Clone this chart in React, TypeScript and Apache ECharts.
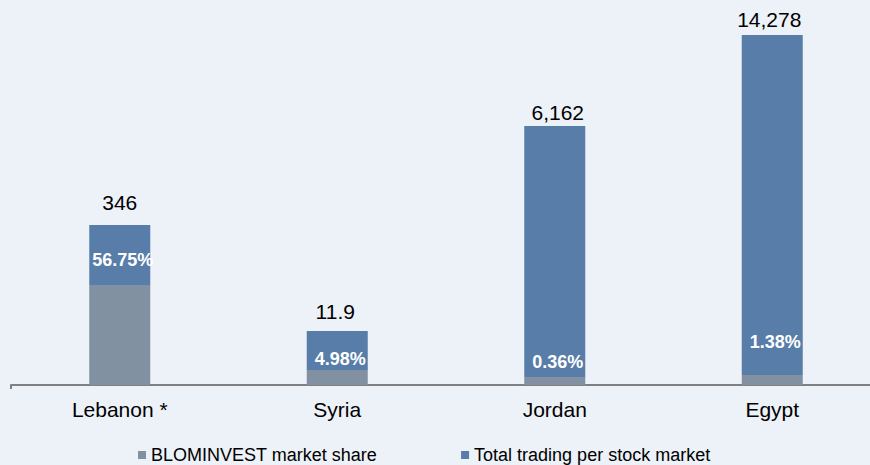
import React, { useEffect, useRef } from "react";
import * as echarts from "echarts";

// Categories and series (bar heights as drawn in the picture, the original is not to scale)
const categories = ["Lebanon *", "Syria", "Jordan", "Egypt"];
const shareHeights = [100, 15, 8, 10];
const restHeights = [60, 39, 251, 340];
// Values printed on the chart
const totals = [346, 11.9, 6162, 14278];
const shares = ["56.75%", "4.98%", "0.36%", "1.38%"];
const seriesNames = ["BLOMINVEST market share", "Total trading per stock market"];

// label layout tweaks
const shareLabelDist = [16, 2, 6, 24];
const totalLabelDist = [12, 9, 3, 5];
const totalLabelShift = [0, -2, 3, -3];

const FONT = "'Liberation Sans', Arial, Helvetica, sans-serif";

export default function App() {
  const ref = useRef<HTMLDivElement>(null);
  useEffect(() => {
    if (!ref.current) return;
    const chart = echarts.init(ref.current, null, { renderer: "svg" });
    chart.setOption({
      animation: false,
      backgroundColor: "#EDF1F8",
      textStyle: { fontFamily: FONT },
      grid: {
        left: 11,
        width: 870,
        top: 35,
        bottom: 80,
        containLabel: false,
        outerBoundsMode: "none",
      },
      legend: {
        data: seriesNames,
        top: 441,
        left: 133,
        itemGap: 84,
        itemWidth: 8,
        itemHeight: 8,
        icon: "rect",
        textStyle: { fontSize: 18, color: "#000", fontFamily: FONT },
      },
      xAxis: {
        type: "category",
        data: categories,
        axisLine: { show: true, lineStyle: { color: "#808080", width: 2 } },
        axisTick: {
          show: true,
          interval: (i: number) => i === 0,
          length: 4,
          lineStyle: { color: "#808080", width: 2 },
        },
        axisLabel: { color: "#000", fontSize: 21, margin: 14, fontFamily: FONT },
      },
      yAxis: {
        type: "value",
        min: 0,
        max: 350,
        show: false,
        splitLine: { show: false },
      },
      series: [
        {
          name: seriesNames[0],
          type: "bar",
          stack: "s",
          barWidth: 61,
          itemStyle: { color: "#8191A2" },
          data: shareHeights.map((v, i) => ({
            value: v,
            label: {
              show: true,
              position: "top",
              distance: shareLabelDist[i],
              offset: [3, 0],
              formatter: () => shares[i],
              color: "#fff",
              fontWeight: "bold",
              fontSize: 18,
              fontFamily: FONT,
            },
          })),
          z: 2,
        },
        {
          name: seriesNames[1],
          type: "bar",
          stack: "s",
          barWidth: 61,
          itemStyle: { color: "#587DA8" },
          data: restHeights.map((v, i) => ({
            value: v,
            label: {
              show: true,
              position: "top",
              distance: totalLabelDist[i],
              offset: [totalLabelShift[i], 0],
              formatter: () => totals[i].toLocaleString("en-US"),
              color: "#000",
              fontSize: 21,
              fontFamily: FONT,
            },
          })),
        },
      ],
    });
    return () => chart.dispose();
  }, []);
  return (
    <div
      ref={ref}
      style={{ position: "fixed", left: 0, top: 0, width: 870, height: 465 }}
    />
  );
}
